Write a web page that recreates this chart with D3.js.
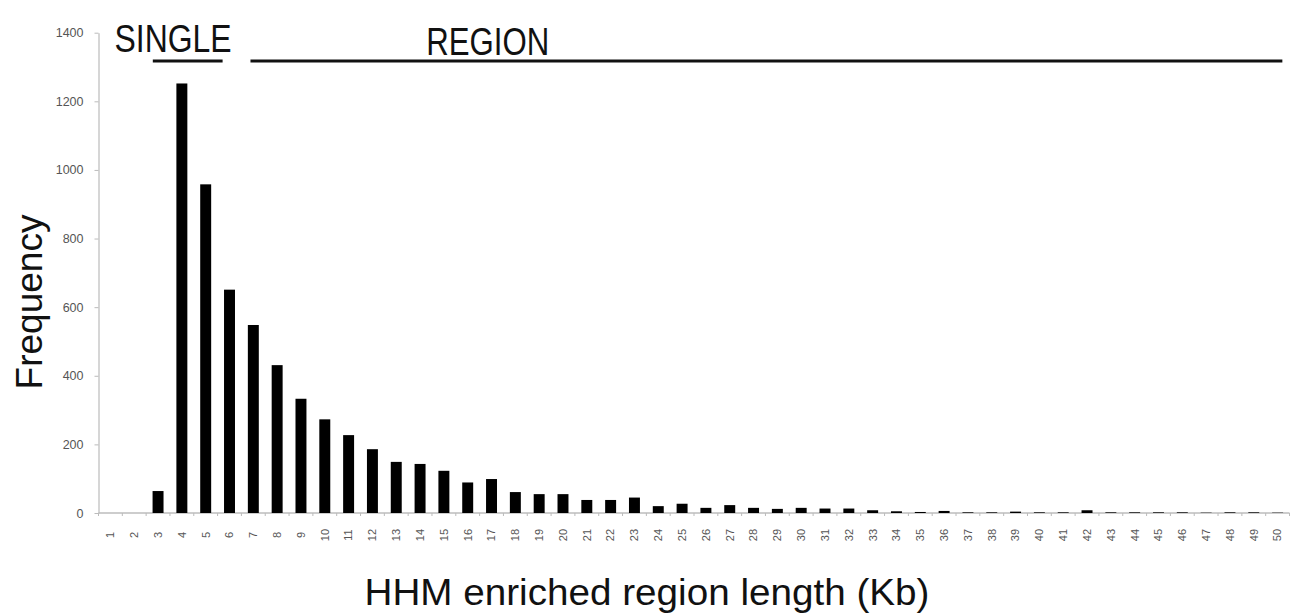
<!DOCTYPE html>
<html>
<head>
<meta charset="utf-8">
<script src="https://cdn.jsdelivr.net/npm/d3@7/dist/d3.min.js"></script>
<style>
  html, body { margin: 0; padding: 0; background: #fff; }
  svg { display: block; }
</style>
</head>
<body>
<svg id="chart" width="1296" height="615"></svg>
<script>
// ---- data ----
const categories = d3.range(1, 51).map(String);
const frequency = [0, 0, 64, 1252, 958, 651, 548, 431, 333, 273,
                   227, 186, 149, 143, 123, 89, 99, 61, 55, 55,
                   38, 38, 45, 20, 27, 15, 23, 15, 12, 15,
                   13, 13, 8, 5, 3, 6, 2, 2, 4, 2,
                   2, 8, 2, 2, 2, 2, 1, 2, 2, 1];
const yTicks = [0, 200, 400, 600, 800, 1000, 1200, 1400];
// annotation brackets, in category units
const annotations = [
  { label: "SINGLE", labelAt: 3.63, from: 2.78, to: 5.71 },
  { label: "REGION", labelAt: 16.84, from: 6.88, to: 50.2 }
];
const yTitle = "Frequency";
const xTitle = "HHM enriched region length (Kb)";

(function draw() {
  const svg = d3.select("#chart");
  const mLeft = 98.5, mRight = 1289.5, mTop = 32.7, mBottom = 513;

  const x = d3.scaleBand().domain(categories).range([mLeft, mRight])
    .paddingInner(0.54).paddingOuter(0.27);
  const y = d3.scaleLinear().domain([0, 1400]).range([mBottom, mTop]);
  const cx = c => x(String(c)) + x.bandwidth() / 2;
  const xc = d3.scaleLinear().domain([1, 50]).range([cx(1), cx(50)]);

  const data = categories.map((c, i) => ({ c, v: frequency[i] }));

  // y axis
  const yAxis = svg.append("g")
    .attr("transform", `translate(${mLeft},0)`)
    .call(d3.axisLeft(y).tickValues(yTicks).tickFormat(d3.format("d"))
      .tickSize(4).tickPadding(11).tickSizeOuter(0));
  yAxis.select(".domain").attr("stroke", "#c8c8c8").attr("stroke-width", 1.5);
  yAxis.selectAll(".tick line").attr("stroke", "#bbb");
  yAxis.selectAll(".tick text").attr("font-family", "Liberation Sans, Arial, sans-serif")
    .attr("font-size", 12.5).attr("fill", "#555");

  // x baseline
  svg.append("line").attr("x1", mLeft).attr("x2", mRight)
    .attr("y1", y(0)).attr("y2", y(0)).attr("stroke", "#bdbdbd").attr("stroke-width", 1.5);

  // small ticks between categories
  svg.append("g").selectAll("line").data(d3.range(0, categories.length + 1))
    .join("line")
    .attr("x1", i => mLeft + i * x.step()).attr("x2", i => mLeft + i * x.step())
    .attr("y1", y(0)).attr("y2", y(0) + 3)
    .attr("stroke", "#bbb");

  // x tick labels (rotated)
  svg.append("g").selectAll("text").data(categories).join("text")
    .attr("transform", d => `translate(${cx(d)},535) rotate(-90)`)
    .attr("text-anchor", "middle").attr("dy", "0.35em")
    .attr("font-family", "Liberation Sans, Arial, sans-serif")
    .attr("font-size", 11).attr("fill", "#555")
    .text(d => d);

  // bars
  svg.append("g").selectAll("rect").data(data).join("rect")
    .attr("x", d => x(d.c)).attr("width", x.bandwidth())
    .attr("y", d => y(d.v)).attr("height", d => y(0) - y(d.v))
    .attr("fill", "#000");

  // annotations
  const ann = svg.append("g");
  ann.selectAll("line").data(annotations).join("line")
    .attr("x1", d => xc(d.from)).attr("x2", d => xc(d.to))
    .attr("y1", 61).attr("y2", 61)
    .attr("stroke", "#111").attr("stroke-width", 3);
  ann.selectAll("text").data(annotations).join("text")
    .attr("x", d => xc(d.labelAt)).attr("y", (d, i) => i === 0 ? 52 : 55)
    .attr("text-anchor", "middle")
    .attr("font-family", "Liberation Sans, Arial, sans-serif")
    .attr("font-size", 38).attr("fill", "#111")
    .attr("textLength", (d, i) => i === 0 ? 117 : 123)
    .attr("lengthAdjust", "spacingAndGlyphs")
    .text(d => d.label);

  // axis titles
  svg.append("text")
    .attr("transform", "translate(42,302) rotate(-90)")
    .attr("text-anchor", "middle")
    .attr("font-family", "Liberation Sans, Arial, sans-serif")
    .attr("font-size", 37).attr("fill", "#111")
    .text(yTitle);

  svg.append("text")
    .attr("x", 647).attr("y", 605)
    .attr("text-anchor", "middle")
    .attr("font-family", "Liberation Sans, Arial, sans-serif")
    .attr("font-size", 36).attr("fill", "#111")
    .attr("textLength", 565).attr("lengthAdjust", "spacingAndGlyphs")
    .text(xTitle);
})();
</script>
</body>
</html>
